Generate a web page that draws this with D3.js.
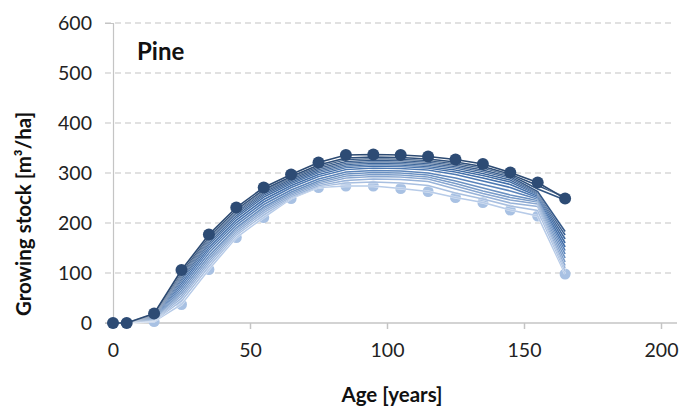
<!DOCTYPE html>
<html><head><meta charset="utf-8">
<script src="https://cdn.jsdelivr.net/npm/d3@7"></script>
<style>body{margin:0;background:#fff}svg{display:block}</style>
</head><body>
<svg id="c" width="683" height="409"></svg>
<script>
const ages = [0,5,15,25,35,45,55,65,75,85,95,105,115,125,135,145,155,165];
// series ordered from darkest (top) to lightest (bottom)
const s0  = [0,0,19,106,177,231,271,297,321,336,337,336,333,327,318,301,281,249];
const s1  = [0,0,18,102,173,227,267,293,316,330,332,331,328,322,313,298,275,252];
const s2  = [0,0,17,99,170,225,265,291,313,327,329,328,325,319,310,296,268,246];
const s3  = [0,0,16,96,167,222,262,288,310,323,326,325,322,316,306,293,263,183];
const s4  = [0,0,15,93,164,219,259,285,307,320,323,322,319,313,303,290,261,176];
const s5  = [0,0,14,89,160,215,256,282,304,317,320,319,316,310,299,286,259,168];
const s6  = [0,0,13,85,156,211,252,279,301,314,317,316,313,306,295,282,257,160];
const s7  = [0,0,12,80,151,206,247,275,297,311,314,313,310,302,290,277,254,152];
const s8  = [0,0,11,75,146,201,242,271,293,307,310,309,306,297,284,271,251,145];
const s9  = [0,0,10,70,140,196,237,266,288,302,305,304,300,290,277,264,248,138];
const s10 = [0,0,9,65,134,191,232,262,284,298,301,300,296,284,270,256,245,130];
const s11 = [0,0,8,60,129,188,229,259,281,294,297,296,292,279,264,251,242,122];
const s12 = [0,0,7,55,124,184,225,256,278,290,293,292,288,274,259,246,238,115];
const s13 = [0,0,6,50,119,180,221,253,275,285,288,287,283,268,254,240,233,110];
const s14 = [0,0,5,44,113,176,216,251,273,280,282,280,275,260,248,234,225,104];
const s15 = [0,0,3,37,107,171,211,249,271,274,274,269,263,251,241,226,214,98];
const series = [s0,s1,s2,s3,s4,s5,s6,s7,s8,s9,s10,s11,s12,s13,s14,s15];
const xTicks = [0,50,100,150,200];
const yTicks = [0,100,200,300,400,500,600];

const svg = d3.select("#c");
const font = "Lato, 'Open Sans', sans-serif";
const x = d3.scaleLinear().domain([0,200]).range([113,661]);
const y = d3.scaleLinear().domain([0,600]).range([323,23]);

// gridlines
svg.append("g").selectAll("line").data(yTicks.filter(d=>d>0)).join("line")
  .attr("x1",105).attr("x2",673).attr("y1",d=>y(d)).attr("y2",d=>y(d))
  .attr("stroke","#c4c4c4").attr("stroke-width",1.2).attr("stroke-dasharray","6,4");

// axes
const yAxis = d3.axisLeft(y).tickValues(yTicks).tickSize(8).tickPadding(13);
const gy = svg.append("g").attr("transform","translate(113,0)").call(yAxis);
gy.select(".domain").attr("stroke","#c4c4c4").attr("stroke-width",1.2);
gy.selectAll(".tick line").attr("stroke","none");
gy.selectAll("text").attr("font-family",font).attr("font-size",19.5).attr("fill","#222");

svg.append("line").attr("x1",105).attr("x2",677).attr("y1",y(0)).attr("y2",y(0))
  .attr("stroke","#c4c4c4").attr("stroke-width",1.5);
const xAxis = d3.axisBottom(x).tickValues(xTicks).tickSize(6).tickPadding(14);
const gx = svg.append("g").attr("transform",`translate(0,${y(0)})`).call(xAxis);
gx.select(".domain").remove();
gx.selectAll(".tick line").attr("stroke","#c4c4c4").attr("stroke-width",1.5);
gx.selectAll("text").attr("font-family",font).attr("font-size",19.5).attr("fill","#222");

const n = series.length;
const colScale = d3.scaleLinear().domain([0,(n-1)/2,n-1])
  .range(["#2c4a72","#4472ae","#b7cbe8"]).interpolate(d3.interpolateRgb);
const line = d3.line().x((d,j)=>x(ages[j])).y(d=>y(d));

// light markers (under lines)
svg.append("g").selectAll("circle").data(s15).join("circle")
  .attr("cx",(d,j)=>x(ages[j])).attr("cy",d=>y(d)).attr("r",5.5)
  .attr("fill","#a8c1e3");

// lines drawn light to dark, each with a thin white edge
const order = d3.range(n).reverse();
const lg = svg.append("g");
order.forEach(i=>{
  lg.append("path").attr("d",line(series[i])).attr("fill","none")
    .attr("stroke","#fff").attr("stroke-width",2.4).attr("stroke-opacity",0.6);
  lg.append("path").attr("d",line(series[i])).attr("fill","none")
    .attr("stroke",colScale(i)).attr("stroke-width",1.6);
});

// dark markers
svg.append("g").selectAll("circle").data(s0).join("circle")
  .attr("cx",(d,j)=>x(ages[j])).attr("cy",d=>y(d)).attr("r",6)
  .attr("fill","#2d4b74");

// labels
svg.append("text").attr("x",137).attr("y",60).attr("font-family",font)
  .attr("font-weight","bold").attr("font-size",24).attr("fill","#111").text("Pine");
svg.append("text").attr("x",392).attr("y",402).attr("text-anchor","middle")
  .attr("font-family",font).attr("font-weight","bold").attr("font-size",20.5).attr("fill","#111")
  .text("Age [years]");
svg.append("text").attr("transform","translate(31,214) rotate(-90)").attr("text-anchor","middle")
  .attr("font-family",font).attr("font-weight","bold").attr("font-size",20.5).attr("fill","#111")
  .text("Growing stock [m³/ha]");
</script>
</body></html>
